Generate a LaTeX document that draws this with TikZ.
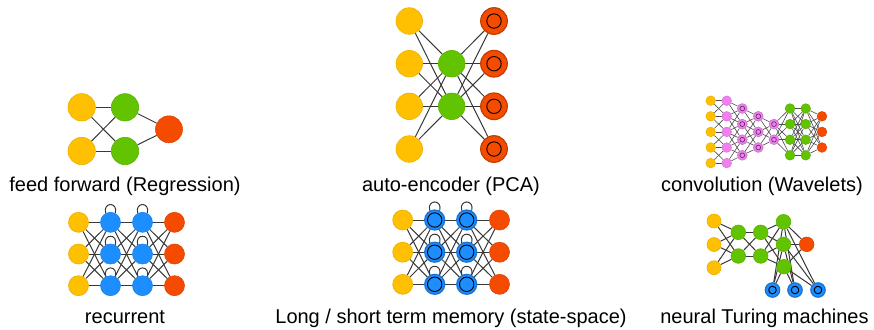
\documentclass[tikz,border=0pt]{standalone}
\usepackage{fontspec}
\setmainfont{Liberation Sans}
\usetikzlibrary{backgrounds}
\definecolor{inyellow}{RGB}{254,192,0}
\definecolor{hidgreen}{RGB}{98,196,0}
\definecolor{outred}{RGB}{245,75,0}
\definecolor{recblue}{RGB}{28,142,255}
\definecolor{convpink}{RGB}{240,128,240}
\tikzset{
  neuron/.style={circle,inner sep=0pt,minimum size=#1,line width=0.3pt},
  inp/.style={neuron=#1,fill=inyellow,draw=inyellow!92!black},
  hid/.style={neuron=#1,fill=hidgreen,draw=hidgreen!92!black},
  outp/.style={neuron=#1,fill=outred,draw=outred!92!black},
  rec/.style={neuron=#1,fill=recblue,draw=recblue!92!black},
  pink/.style={neuron=#1,fill=convpink,draw=convpink!92!black},
  ring/.style={line width=0.6pt,path picture={\draw[black,line width=0.45pt] (path picture bounding box.center) circle[radius=#1];}},
  pinkring/.style={pink=4.9pt,draw=convpink!85!black,path picture={\draw[convpink!35!black,line width=0.3pt] (path picture bounding box.center) circle[radius=1.2pt];}},
  link/.style={draw=black!78,line width=0.5pt},
  thinlink/.style={draw=black!70,line width=0.3pt},
  selfloop/.style={out=105,in=75,distance=6pt},
  lbl/.style={anchor=base,inner sep=0pt,font=\fontsize{10}{12}\selectfont}
}
\begin{document}
\begin{tikzpicture}[x=0.5pt,y=-0.5pt]
\useasboundingbox (0,0) rectangle (874,329);

% feed forward
\node[inp=13.7pt] (ff-i1) at (81.7,107.3) {};
\node[inp=13.7pt] (ff-i2) at (81.7,151) {};
\node[hid=13.7pt] (ff-h1) at (125,107.3) {};
\node[hid=13.7pt] (ff-h2) at (125,151) {};
\node[outp=13.5pt] (ff-o) at (169,129.3) {};
\node[lbl] (ff-lbl) at (125,191.5) {feed forward (Regression)};
\begin{scope}[on background layer]
\foreach \i in {1,2} \foreach \j in {1,2} \draw[link] (ff-i\i) -- (ff-h\j);
\foreach \j in {1,2} \draw[link] (ff-h\j) -- (ff-o);
\end{scope}

% auto-encoder
\foreach \k/\y in {1/21,2/63.7,3/106.3,4/149} {
  \node[inp=13.3pt] (ae-i\k) at (409.3,\y) {};
  \node[outp=13.3pt,draw=outred!80!black,ring=3.6pt] (ae-o\k) at (494,\y) {};
}
\node[hid=13.3pt] (ae-h1) at (451.7,63.7) {};
\node[hid=13.3pt] (ae-h2) at (451.7,106.3) {};
\node[lbl] (ae-lbl) at (451,191.5) {auto-encoder (PCA)};
\begin{scope}[on background layer]
\foreach \k in {1,...,4} \foreach \j in {1,2} {
  \draw[link] (ae-i\k) -- (ae-h\j);
  \draw[link] (ae-h\j) -- (ae-o\k);
}
\end{scope}

% convolution
\foreach \k in {1,...,5} {
  \pgfmathsetmacro\y{100.7+15.6*(\k-1)}
  \node[inp=4.8pt] (cv-a\k) at (710.7,\y) {};
  \node[pink=4.8pt] (cv-b\k) at (726.7,\y) {};
}
\foreach \k in {1,...,4} {
  \pgfmathsetmacro\y{108.5+15.6*(\k-1)}
  \node[pinkring] (cv-c\k) at (742.3,\y) {};
  \node[hid=4.8pt] (cv-f\k) at (790,\y) {};
  \node[hid=4.8pt] (cv-g\k) at (805.7,\y) {};
}
\foreach \k in {1,...,3} {
  \pgfmathsetmacro\y{116.3+15.6*(\k-1)}
  \node[pinkring] (cv-d\k) at (758.3,\y) {};
  \node[outp=4.8pt] (cv-o\k) at (822,\y) {};
}
\foreach \k in {1,2} {
  \pgfmathsetmacro\y{124.1+15.6*(\k-1)}
  \node[pinkring] (cv-e\k) at (774,\y) {};
}
\node[lbl] (cv-lbl) at (762,191.5) {convolution (Wavelets)};
\begin{scope}[on background layer]
\foreach \i in {1,...,5} \foreach \j in {1,...,5} {
  \ifnum\numexpr\i-\j\relax<2 \ifnum\numexpr\j-\i\relax<2 \draw[thinlink] (cv-a\i) -- (cv-b\j); \fi\fi
}
\foreach \i in {1,...,5} \foreach \j in {1,...,4} {
  \ifnum\numexpr\i-\j\relax<3 \ifnum\numexpr\j-\i\relax<2 \draw[thinlink] (cv-b\i) -- (cv-c\j); \fi\fi
}
\foreach \i in {1,...,4} \foreach \j in {1,...,3} {
  \ifnum\numexpr\i-\j\relax<3 \ifnum\numexpr\j-\i\relax<2 \draw[thinlink] (cv-c\i) -- (cv-d\j); \fi\fi
}
\foreach \i in {1,...,3} \foreach \j in {1,2} \draw[thinlink] (cv-d\i) -- (cv-e\j);
\foreach \i in {1,2} \foreach \j in {1,...,4} \draw[thinlink] (cv-e\i) -- (cv-f\j);
\foreach \i in {1,...,4} \foreach \j in {1,...,4} \draw[thinlink] (cv-f\i) -- (cv-g\j);
\foreach \i in {1,...,4} \foreach \j in {1,...,3} \draw[thinlink] (cv-g\i) -- (cv-o\j);
\end{scope}

% recurrent
\foreach \r/\y in {1/222.3,2/254,3/285.7} {
  \node[inp=10pt] (rc-i\r) at (78.5,\y) {};
  \node[rec=10pt] (rc-a\r) at (110.5,\y) {};
  \node[rec=10pt] (rc-b\r) at (142.5,\y) {};
  \node[outp=10pt] (rc-o\r) at (174.5,\y) {};
}
\node[lbl] (rc-lbl) at (125,323) {recurrent};
\begin{scope}[on background layer]
\foreach \i in {1,2,3} \foreach \j in {1,2,3} {
  \draw[link] (rc-i\i) -- (rc-a\j);
  \draw[link] (rc-a\i) -- (rc-b\j);
  \draw[link] (rc-b\i) -- (rc-o\j);
}
\foreach \r in {1,2,3} {
  \draw[link] (rc-a\r.118) to[selfloop] (rc-a\r.62);
  \draw[link] (rc-b\r.118) to[selfloop] (rc-b\r.62);
}
\end{scope}

% long / short term memory
\foreach \r/\y in {1/220,2/252.2,3/284.3} {
  \node[inp=10pt] (ls-i\r) at (402.7,\y) {};
  \node[rec=10pt,draw=recblue!80!black,ring=3.6pt] (ls-a\r) at (434.7,\y) {};
  \node[rec=10pt,draw=recblue!80!black,ring=3.6pt] (ls-b\r) at (466.7,\y) {};
  \node[outp=10pt] (ls-o\r) at (499.5,\y) {};
}
\node[lbl] (ls-lbl) at (451,323) {Long / short term memory (state-space)};
\begin{scope}[on background layer]
\foreach \i in {1,2,3} \foreach \j in {1,2,3} {
  \draw[link] (ls-i\i) -- (ls-a\j);
  \draw[link] (ls-a\i) -- (ls-b\j);
  \draw[link] (ls-b\i) -- (ls-o\j);
}
\foreach \r in {1,2,3} {
  \draw[link] (ls-a\r.118) to[selfloop] (ls-a\r.62);
  \draw[link] (ls-b\r.118) to[selfloop] (ls-b\r.62);
}
\end{scope}

% neural Turing machine
\foreach \k/\y in {1/221,2/244.5,3/267.7} \node[inp=7pt] (nt-i\k) at (714,\y) {};
\foreach \k/\y in {1/232.3,2/256} {
  \node[hid=7.3pt] (nt-a\k) at (738.3,\y) {};
  \node[hid=7.3pt] (nt-b\k) at (760.7,\y) {};
}
\node[hid=7.3pt] (nt-c1) at (783.5,221.7) {};
\node[hid=7.3pt] (nt-c2) at (783.5,244.3) {};
\node[hid=7.3pt] (nt-c3) at (784,266.7) {};
\node[outp=7.3pt] (nt-o) at (806.7,244.3) {};
\foreach \k/\x in {1/772.5,2/795,3/818} \node[rec=7.2pt,draw=recblue!80!black,ring=1.9pt] (nt-m\k) at (\x,290) {};
\node[lbl] (nt-lbl) at (764.5,323) {neural Turing machines};
\begin{scope}[on background layer]
\foreach \i in {1,2,3} \foreach \j in {1,2} \draw[link] (nt-i\i) -- (nt-a\j);
\foreach \i in {1,2} \foreach \j in {1,2} \draw[link] (nt-a\i) -- (nt-b\j);
\foreach \i in {1,2} \foreach \j in {1,2,3} \draw[link] (nt-b\i) -- (nt-c\j);
\foreach \i in {1,2,3} {
  \draw[link] (nt-c\i) -- (nt-o);
  \foreach \j in {1,2,3} \draw[link] (nt-c\i) -- (nt-m\j);
}
\end{scope}
\end{tikzpicture}
\end{document}
